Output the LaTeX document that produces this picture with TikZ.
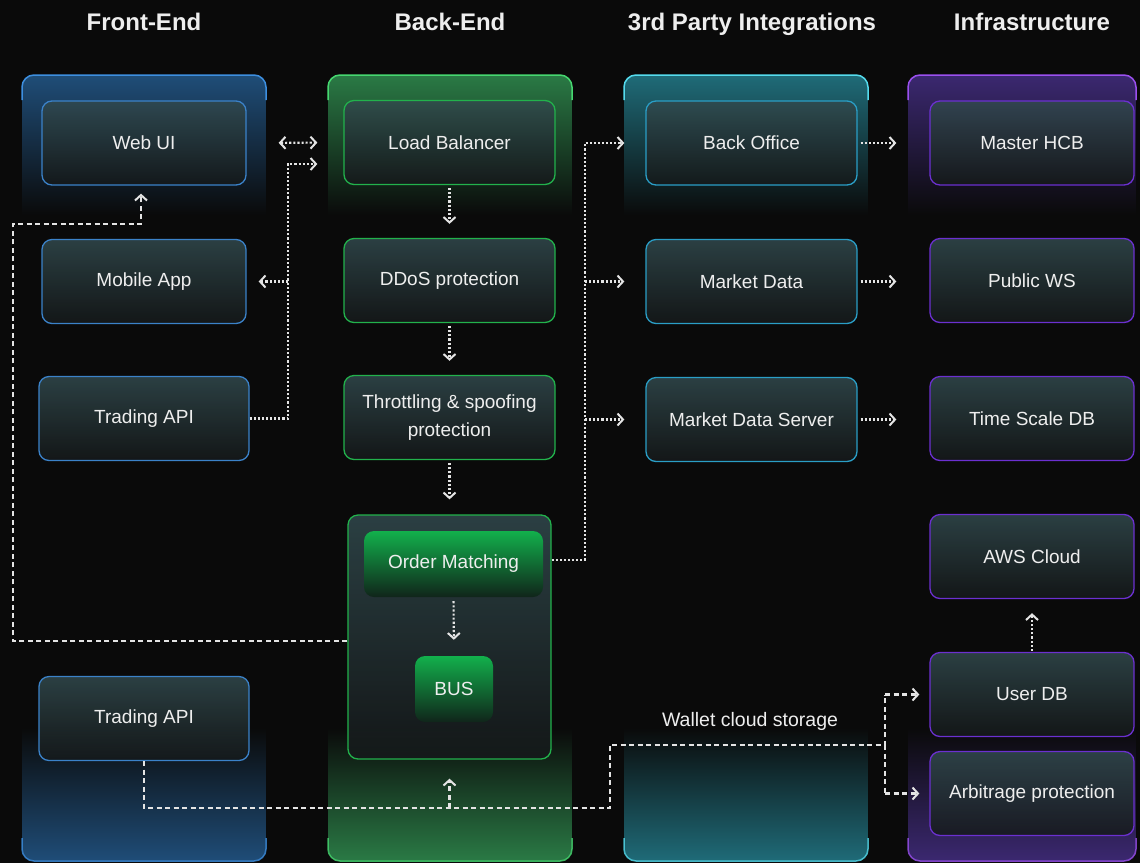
\documentclass[tikz,border=0pt]{standalone}
\usepackage{fontspec}
\setmainfont{Liberation Sans}
\usetikzlibrary{arrows.meta}

\definecolor{bgdark}{HTML}{0A0A0A}
\definecolor{labelwhite}{HTML}{EEEEEE}
\definecolor{linkgrey}{HTML}{E4E4E4}
\definecolor{boxtop}{HTML}{31494D}
\definecolor{boxbot}{HTML}{15191A}
% column colours
\definecolor{fepanel}{HTML}{1F4D78}
\definecolor{feedge}{HTML}{3B82C9}
\definecolor{felight}{HTML}{3D8FE0}
\definecolor{bepanel}{HTML}{2A7A45}
\definecolor{beedge}{HTML}{22B24C}
\definecolor{belight}{HTML}{46D870}
\definecolor{tppanel}{HTML}{1F6B78}
\definecolor{tpedge}{HTML}{2A9EC6}
\definecolor{tplight}{HTML}{55DCEE}
\definecolor{inpanel}{HTML}{3B2870}
\definecolor{inedge}{HTML}{6B30D0}
\definecolor{inlight}{HTML}{9B50F0}
\definecolor{coretop}{HTML}{12B04C}
\definecolor{corebot}{HTML}{10251A}

\tikzset{
    unit/.style={rounded corners=10pt, line width=1.3pt, minimum height=84pt,
        text=labelwhite, font=\fontsize{19}{28}\selectfont, align=center,
        top color=boxtop, bottom color=boxbot, fill opacity=0.85, text opacity=1},
    feunit/.style={unit, draw=feedge, minimum width=204pt},
    beunit/.style={unit, draw=beedge, minimum width=211pt},
    tpunit/.style={unit, draw=tpedge, minimum width=211pt},
    inunit/.style={unit, draw=inedge, minimum width=204pt},
    coreunit/.style={rounded corners=10pt, minimum height=66pt, text=labelwhite,
        font=\fontsize{19}{28}\selectfont, top color=coretop, bottom color=corebot},
    heading/.style={text=labelwhite, anchor=base, font=\fontsize{24}{28}\selectfont\bfseries},
    dotlink/.style={draw=linkgrey, line width=2.1pt, dash pattern=on 2.1pt off 2pt},
    dashlink/.style={draw=linkgrey, line width=2.1pt, dash pattern=on 5pt off 3.5pt},
}

\begin{document}
\begin{tikzpicture}[x=1pt,y=-1pt,>={Straight Barb[length=5.5pt,width=12pt,line width=2pt]}]
    \useasboundingbox (0,0) rectangle (1140,863);
    \fill[bgdark] (0,0) rectangle (1140,863);

    % column panels: coloured top and bottom, dark in between
    \foreach \xa/\xb/\pc/\pe in {22/266/fepanel/felight, 328/572/bepanel/belight,
                                624/868/tppanel/tplight, 908/1136/inpanel/inlight}{
        \begin{scope}
            \clip[rounded corners=12pt] (\xa,75) rectangle (\xb,861);
            \shade[top color=\pc, bottom color=bgdark] (\xa,75) rectangle (\xb,215); % top
            \shade[top color=bgdark, bottom color=\pc] (\xa,728) rectangle (\xb,861); % bottom
        \end{scope}
        \draw[draw=\pe, line width=1.5pt, rounded corners=12pt] (\xa,100) -- (\xa,75) -- (\xb,75) -- (\xb,100);
        \draw[draw=\pe, line width=1.5pt, rounded corners=12pt, opacity=0.8] (\xa,838) -- (\xa,861) -- (\xb,861) -- (\xb,838);
    }

    % headings
    \node[heading] (hfe) at (144,30) {Front-End};
    \node[heading] (hbe) at (450,30) {Back-End};
    \node[heading] (htp) at (752,30) {3rd Party Integrations};
    \node[heading] (hin) at (1032,30) {Infrastructure};

    % front-end
    \node[feunit] (web) at (144,143) {Web UI};
    \node[feunit] (mobile) at (144,281.5) {Mobile App};
    \node[feunit, minimum width=210pt] (tapi) at (144,418.5) {Trading API};
    \node[feunit, minimum width=210pt] (tapi2) at (144,718.5) {Trading API};

    % back-end
    \node[beunit] (lb) at (449.5,142.5) {Load Balancer};
    \node[beunit] (ddos) at (449.5,280.5) {DDoS protection};
    \node[beunit] (thr) at (449.5,417.5) {Throttling \& spoofing\\protection};
    \node[unit, draw=beedge, minimum width=203pt, minimum height=244pt] (omc) at (449.5,637) {};
    \node[coreunit, minimum width=179pt] (om) at (453.5,564) {Order Matching};
    \node[coreunit, minimum width=78pt] (bus) at (454,689) {BUS};

    % 3rd party
    \node[tpunit] (bo) at (751.5,143) {Back Office};
    \node[tpunit] (md) at (751.5,281.5) {Market Data};
    \node[tpunit] (mds) at (751.5,419.5) {Market Data Server};

    % infrastructure
    \node[inunit] (hcb) at (1032,143) {Master HCB};
    \node[inunit] (ws) at (1032,280.5) {Public WS};
    \node[inunit] (tsdb) at (1032,418.5) {Time Scale DB};
    \node[inunit] (aws) at (1032,556.5) {AWS Cloud};
    \node[inunit] (udb) at (1032,694.5) {User DB};
    \node[inunit] (arb) at (1032,793.5) {Arbitrage protection};

    \node[text=labelwhite, font=\fontsize{19.5}{24}\selectfont] (wallet) at (750,721) {Wallet cloud storage};

    % bends
    \coordinate (tr1) at (288,164);
    \coordinate (tr2) at (585,560);
    \coordinate (lp1) at (13,641);
    \coordinate (lp2) at (141,224);
    \coordinate (wb2) at (610,808);
    \coordinate (wb4) at (885,745);

    % front-end <-> back-end
    \draw[dotlink, <->, shorten <=32pt, shorten >=26pt] (web.east) -- (lb.west);
    \draw[dotlink, ->, shorten >=26pt] (tapi.east) -| (tr1) -- (tr1 -| lb.west);
    \draw[dotlink, ->, shorten >=12pt] (tr1 |- mobile.east) -- (mobile.east);

    % back-end chain
    \draw[dotlink, ->, shorten <=3pt, shorten >=14pt] (lb.south) -- (ddos.north);
    \draw[dotlink, ->, shorten <=3pt, shorten >=14pt] (ddos.south) -- (thr.north);
    \draw[dotlink, ->, shorten <=3pt, shorten >=15pt] (thr.south) -- (omc.north);
    \draw[dotlink, ->, shorten <=4pt, shorten >=16pt] (om.south) -- (bus.north);

    % order matching -> 3rd party
    \draw[dotlink, ->, shorten >=21pt] (omc.east |- tr2) -- (tr2) |- (bo.west);
    \draw[dotlink, ->, shorten >=21pt] (tr2 |- md.west) -- (md.west);
    \draw[dotlink, ->, shorten >=21pt] (tr2 |- mds.west) -- (mds.west);

    % 3rd party -> infrastructure
    \draw[dotlink, ->, shorten <=3pt, shorten >=33pt] (bo.east) -- (hcb.west);
    \draw[dotlink, ->, shorten <=3pt, shorten >=33pt] (md.east) -- (md.east -| ws.west);
    \draw[dotlink, ->, shorten <=3pt, shorten >=33pt] (mds.east) -- (mds.east -| tsdb.west);
    \draw[dotlink, ->, shorten <=1pt, shorten >=14pt] (udb.north) -- (aws.south);

    % order matching -> web ui
    \draw[dashlink, ->, shorten >=8pt] (omc.west |- lp1) -- (lp1) |- (lp2) -- (lp2 |- web.south);

    % wallet cloud storage
    \draw[dashlink] (tapi2.south) |- (wb2) |- (wb4) -- (wb4 |- udb.west);
    \draw[dashlink] (wb4) -- (wb4 |- arb.west);
    \draw[dashlink, ->, shorten >=19pt] (omc.south |- wb2) -- (omc.south);
    \draw[dashlink, ->, shorten >=10pt] (wb4 |- udb.west) -- (udb.west);
    \draw[dashlink, ->, shorten >=10pt] (wb4 |- arb.west) -- (arb.west);

\end{tikzpicture}
\end{document}
